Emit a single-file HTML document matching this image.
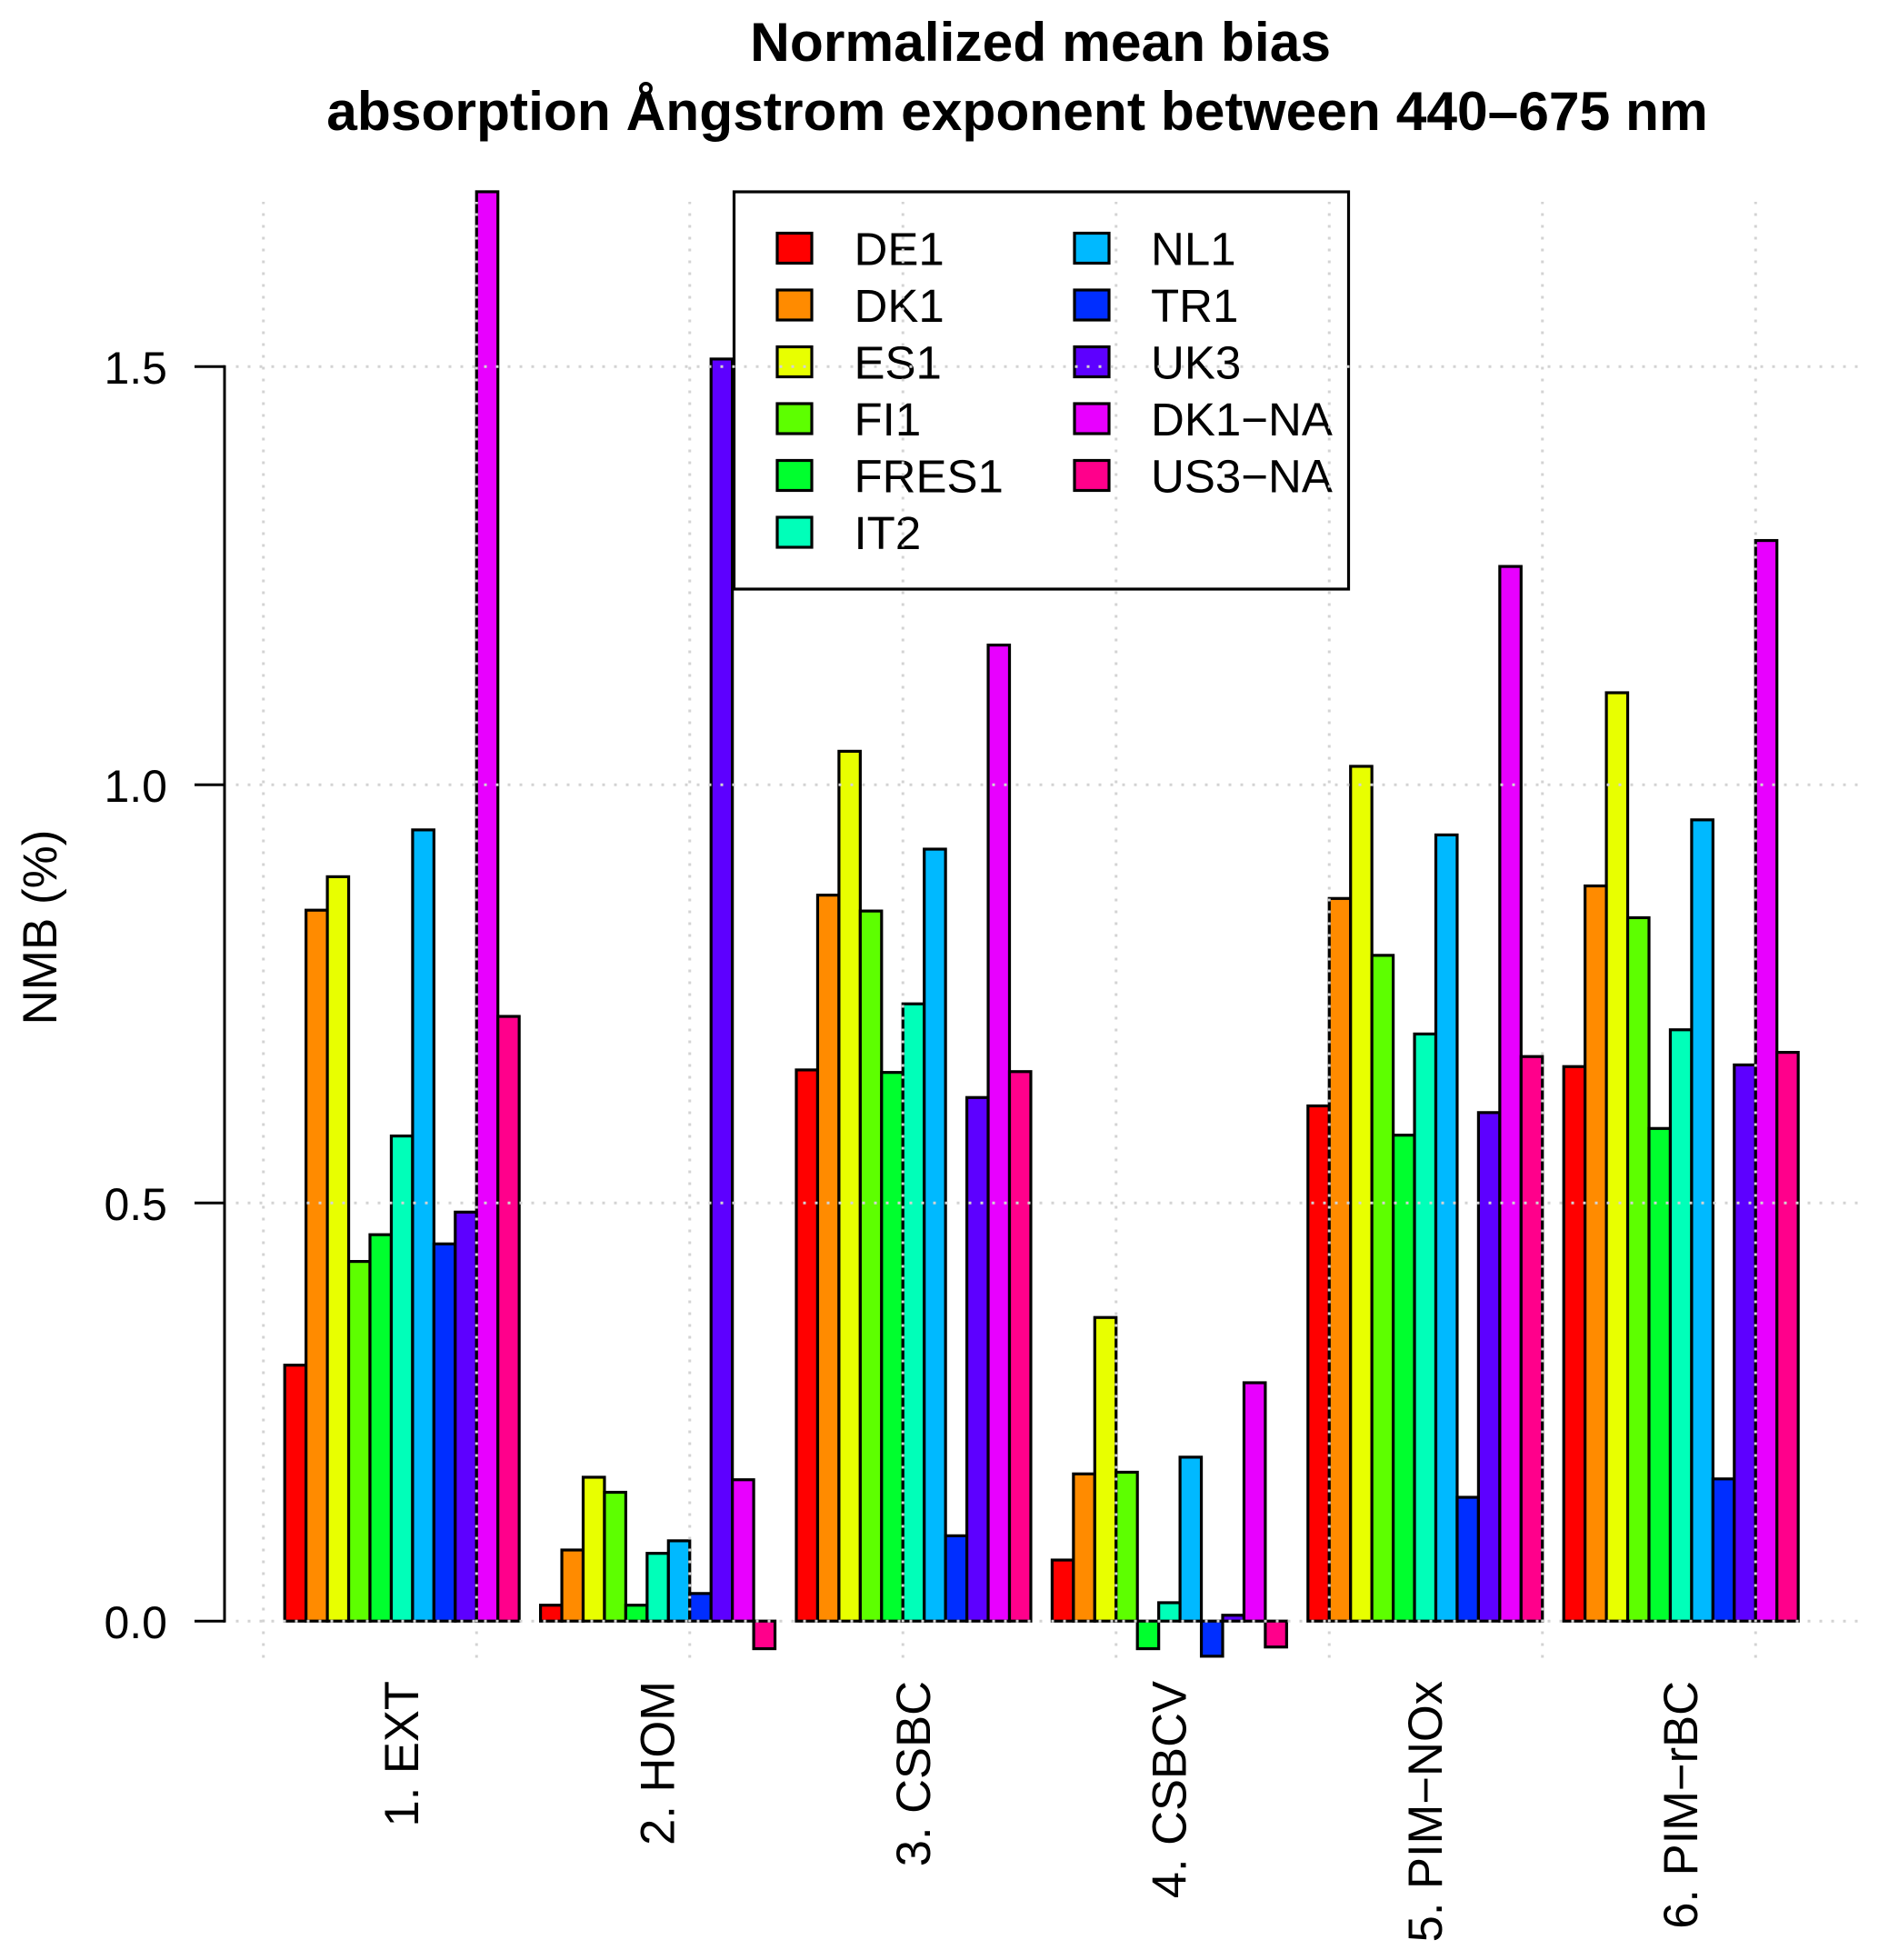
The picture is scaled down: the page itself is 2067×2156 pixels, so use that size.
<!DOCTYPE html>
<html lang="en">
<head>
<meta charset="utf-8">
<title>Normalized mean bias</title>
<style>
html,body{margin:0;padding:0;background:#fff;}
svg{display:block;font-family:"Liberation Sans",Arial,sans-serif;font-kerning:none;}
</style>
</head>
<body>
<svg id="chart" xmlns="http://www.w3.org/2000/svg" width="2067" height="2156" viewBox="0 0 2067 2156">
  <rect x="0" y="0" width="2067" height="2156" fill="#ffffff"/>
  <text x="1144.6" y="67" text-anchor="middle" font-size="60.5" font-weight="bold">Normalized mean bias</text>
  <text x="1119" y="143" text-anchor="middle" font-size="60.5" font-weight="bold">absorption Ångstrom exponent between 440–675 nm</text>
  <text transform="translate(62,1020) rotate(-90)" text-anchor="middle" font-size="53">NMB (%)</text>
  <g id="bars"></g>
  <rect x="807.5" y="211" width="676" height="437" fill="none" stroke="#000" stroke-width="3.2"/>
  <g id="legend"></g>
  <g id="grid"></g>
  <g id="y-axis"></g>
  <g id="x-axis"></g>
</svg>
<script>
const categories = ["1. EXT", "2. HOM", "3. CSBC", "4. CSBCV", "5. PIM\u2212NOx", "6. PIM\u2212rBC"];
const seriesNames = ["DE1", "DK1", "ES1", "FI1", "FRES1", "IT2", "NL1", "TR1", "UK3", "DK1\u2212NA", "US3\u2212NA"];
const valuesExt = [0.306, 0.85, 0.89, 0.43, 0.462, 0.58, 0.946, 0.451, 0.489, 1.709, 0.723];
const valuesHom = [0.019, 0.085, 0.172, 0.154, 0.019, 0.081, 0.096, 0.033, 1.509, 0.169, -0.033];
const valuesCsbc = [0.659, 0.868, 1.04, 0.849, 0.656, 0.738, 0.923, 0.102, 0.626, 1.167, 0.657];
const valuesCsbcv = [0.073, 0.176, 0.363, 0.178, -0.033, 0.022, 0.196, -0.042, 0.007, 0.285, -0.031];
const valuesPimNox = [0.616, 0.864, 1.022, 0.796, 0.581, 0.702, 0.94, 0.148, 0.608, 1.261, 0.675];
const valuesPimRbc = [0.663, 0.879, 1.11, 0.841, 0.589, 0.707, 0.958, 0.17, 0.665, 1.292, 0.68];
const groupValues = [valuesExt, valuesHom, valuesCsbc, valuesCsbcv, valuesPimNox, valuesPimRbc];
const yTicks = [0, 0.5, 1, 1.5];
const yTickLabels = ["0.0", "0.5", "1.0", "1.5"];
const gridXValues = [0, 10, 20, 30, 40, 50, 60, 70];
const palette = ["#FF0000", "#FF8B00", "#E8FF00", "#5DFF00", "#00FF2E", "#00FFB9", "#00B9FF", "#002EFF", "#5D00FF", "#E800FF", "#FF008B"];

const NS = "http://www.w3.org/2000/svg";
function xScale(u) { return 289.75 + u * 23.45; }
function yScale(v) { return 1783.2 - v * 920; }
function make(tag, attrs, parent) {
  const el = document.createElementNS(NS, tag);
  for (const k in attrs) el.setAttribute(k, attrs[k]);
  parent.appendChild(el);
  return el;
}

const barsG = document.getElementById("bars");
groupValues.forEach(function (vals, g) {
  vals.forEach(function (v, s) {
    const u = 1 + g * 12 + s;
    const y0 = yScale(0), y1 = yScale(v);
    const r = make("rect", {
      x: xScale(u), y: Math.min(y0, y1), width: xScale(u + 1) - xScale(u), height: Math.abs(y1 - y0),
      fill: palette[s], stroke: "#000", "stroke-width": 3.2
    }, barsG);
    
    
  });
});

const legendG = document.getElementById("legend");
seriesNames.forEach(function (name, i) {
  const col = i < 6 ? 0 : 1;
  const row = i < 6 ? i : i - 6;
  const cy = 273.5 + row * 62.5;
  const sx = col === 0 ? 855 : 1182;
  const tx = col === 0 ? 939.5 : 1266;
  const sw = make("rect", { x: sx, y: cy - 17, width: 38, height: 33, fill: palette[i], stroke: "#000", "stroke-width": 3.2 }, legendG);
  
  
  const t = make("text", { x: tx, y: cy + 18, "font-size": 51 }, legendG);
  t.textContent = name;
  
  
});

const gridG = document.getElementById("grid");
yTicks.forEach(function (v) {
  const l = make("line", { x1: 2043.5, x2: 259, y1: yScale(v), y2: yScale(v), stroke: "#d3d3d3", "stroke-width": 3, "stroke-dasharray": "3 10" }, gridG);
  
  
});
gridXValues.forEach(function (u) {
  const l = make("line", { x1: xScale(u), x2: xScale(u), y1: 1823.5, y2: 222, stroke: "#d3d3d3", "stroke-width": 3, "stroke-dasharray": "3 10" }, gridG);
  
  
});

const yAxisG = document.getElementById("y-axis");
const axisLine = make("line", { x1: 247, x2: 247, y1: yScale(yTicks[yTicks.length - 1]) - 1.5, y2: yScale(yTicks[0]) + 1.5, stroke: "#000", "stroke-width": 3 }, yAxisG);


yTicks.forEach(function (v, i) {
  const tk = make("line", { x1: 214, x2: 247, y1: yScale(v), y2: yScale(v), stroke: "#000", "stroke-width": 3 }, yAxisG);
  
  
  const t = make("text", { x: 184, y: yScale(v) + 19, "text-anchor": "end", "font-size": 50 }, yAxisG);
  t.textContent = yTickLabels[i];
  
  
});

const xAxisG = document.getElementById("x-axis");
categories.forEach(function (name, g) {
  const center = xScale(1 + g * 12 + 5.5);
  const t = make("text", { transform: "translate(" + (center + 18) + ",1849) rotate(-90)", "text-anchor": "end", "font-size": 52.5 }, xAxisG);
  t.textContent = name;
  
  
});
</script>
</body>
</html>
